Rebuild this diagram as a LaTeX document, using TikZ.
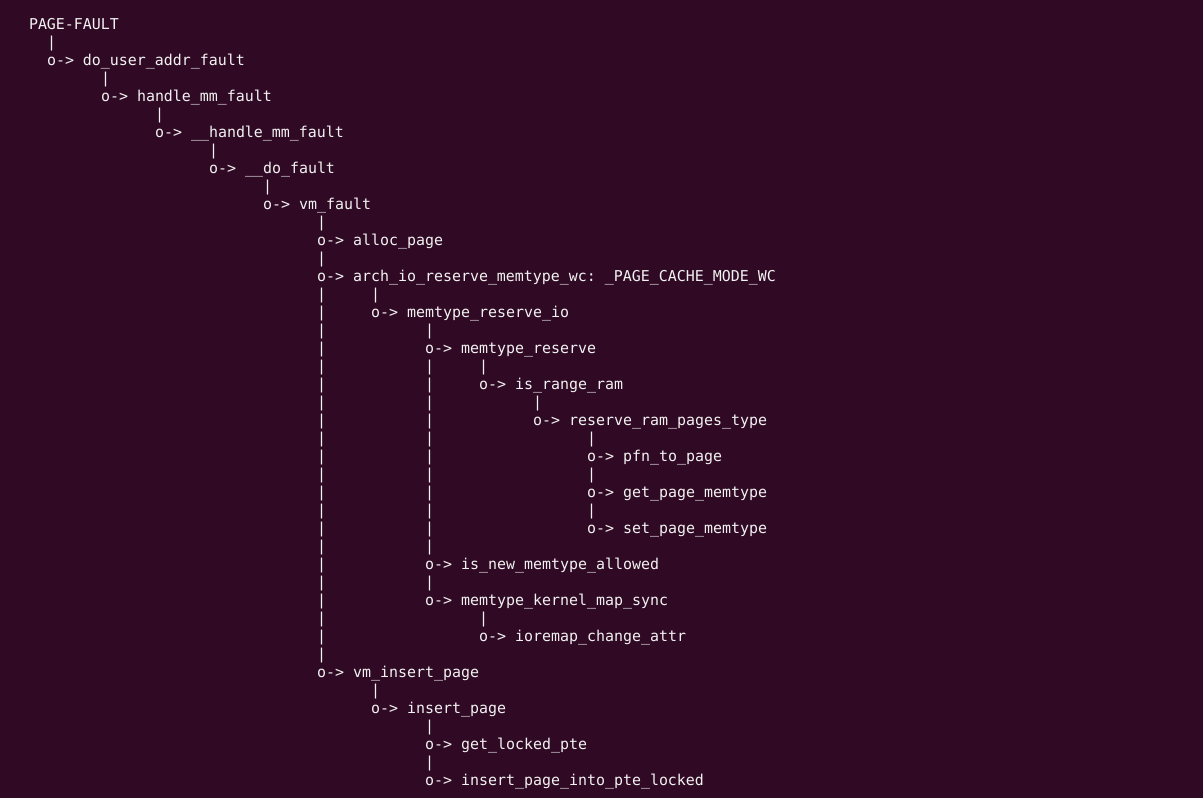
\documentclass[tikz,border=0pt]{standalone}
\usepackage{fontspec}
\newfontfamily\termfont{DejaVu Sans Mono}
\definecolor{termbg}{RGB}{48,10,36}
\definecolor{termfg}{RGB}{242,242,242}
\frenchspacing
\tikzset{
  txt/.style={anchor=base west, inner sep=0pt, outer sep=0pt, text=termfg,
    font=\termfont\frenchspacing\fontsize{14.95}{18}\selectfont},
}
\newcommand\Ln[4]{\node[txt] (#1) at ({29+9*#2},{29+18*#3}) {#4};}
\begin{document}
\begin{tikzpicture}[x=1pt,y=-1pt]
\fill[termbg] (0,0) rectangle (1203,798);
\useasboundingbox (0,0) rectangle (1203,798);
\Ln{pf}{0}{0}{PAGE-FAULT}
\Ln{p1}{2}{1}{|}
\Ln{n2}{2}{2}{o-> do\_user\_addr\_fault}
\Ln{p3}{8}{3}{|}
\Ln{n4}{8}{4}{o-> handle\_mm\_fault}
\Ln{p5}{14}{5}{|}
\Ln{n6}{14}{6}{o-> \_\_handle\_mm\_fault}
\Ln{p7}{20}{7}{|}
\Ln{n8}{20}{8}{o-> \_\_do\_fault}
\Ln{p9}{26}{9}{|}
\Ln{n10}{26}{10}{o-> vm\_fault}
\Ln{p11}{32}{11}{|}
\Ln{n12}{32}{12}{o-> alloc\_page}
\Ln{p13}{32}{13}{|}
\Ln{n14}{32}{14}{o-> arch\_io\_reserve\_memtype\_wc: \_PAGE\_CACHE\_MODE\_WC}
\Ln{p15a}{32}{15}{|}\Ln{p15b}{38}{15}{|}
\Ln{p16a}{32}{16}{|}\Ln{n16}{38}{16}{o-> memtype\_reserve\_io}
\Ln{p17a}{32}{17}{|}\Ln{p17b}{44}{17}{|}
\Ln{p18a}{32}{18}{|}\Ln{n18}{44}{18}{o-> memtype\_reserve}
\Ln{p19a}{32}{19}{|}\Ln{p19b}{44}{19}{|}\Ln{p19c}{50}{19}{|}
\Ln{p20a}{32}{20}{|}\Ln{p20b}{44}{20}{|}\Ln{n20}{50}{20}{o-> is\_range\_ram}
\Ln{p21a}{32}{21}{|}\Ln{p21b}{44}{21}{|}\Ln{p21c}{56}{21}{|}
\Ln{p22a}{32}{22}{|}\Ln{p22b}{44}{22}{|}\Ln{n22}{56}{22}{o-> reserve\_ram\_pages\_type}
\Ln{p23a}{32}{23}{|}\Ln{p23b}{44}{23}{|}\Ln{p23c}{62}{23}{|}
\Ln{p24a}{32}{24}{|}\Ln{p24b}{44}{24}{|}\Ln{n24}{62}{24}{o-> pfn\_to\_page}
\Ln{p25a}{32}{25}{|}\Ln{p25b}{44}{25}{|}\Ln{p25c}{62}{25}{|}
\Ln{p26a}{32}{26}{|}\Ln{p26b}{44}{26}{|}\Ln{n26}{62}{26}{o-> get\_page\_memtype}
\Ln{p27a}{32}{27}{|}\Ln{p27b}{44}{27}{|}\Ln{p27c}{62}{27}{|}
\Ln{p28a}{32}{28}{|}\Ln{p28b}{44}{28}{|}\Ln{n28}{62}{28}{o-> set\_page\_memtype}
\Ln{p29a}{32}{29}{|}\Ln{p29b}{44}{29}{|}
\Ln{p30a}{32}{30}{|}\Ln{n30}{44}{30}{o-> is\_new\_memtype\_allowed}
\Ln{p31a}{32}{31}{|}\Ln{p31b}{44}{31}{|}
\Ln{p32a}{32}{32}{|}\Ln{n32}{44}{32}{o-> memtype\_kernel\_map\_sync}
\Ln{p33a}{32}{33}{|}\Ln{p33b}{50}{33}{|}
\Ln{p34a}{32}{34}{|}\Ln{n34}{50}{34}{o-> ioremap\_change\_attr}
\Ln{p35a}{32}{35}{|}
\Ln{n36}{32}{36}{o-> vm\_insert\_page}
\Ln{p37}{38}{37}{|}
\Ln{n38}{38}{38}{o-> insert\_page}
\Ln{p39}{44}{39}{|}
\Ln{n40}{44}{40}{o-> get\_locked\_pte}
\Ln{p41}{44}{41}{|}
\Ln{n42}{44}{42}{o-> insert\_page\_into\_pte\_locked}
\end{tikzpicture}
\end{document}
